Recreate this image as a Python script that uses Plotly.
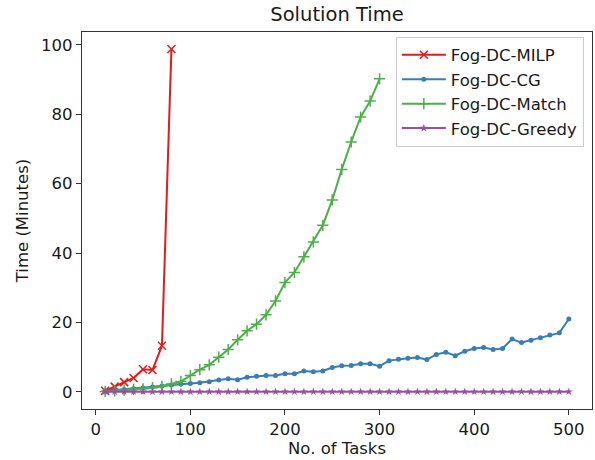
import plotly.graph_objects as go

tasks_milp = [10, 20, 30, 40, 50, 60, 70, 80]
time_milp = [0.3, 1.5, 2.8, 4.0, 6.5, 6.3, 13.3, 98.8]

tasks_all = [10, 20, 30, 40, 50, 60, 70, 80, 90, 100,
             110, 120, 130, 140, 150, 160, 170, 180, 190, 200,
             210, 220, 230, 240, 250, 260, 270, 280, 290, 300,
             310, 320, 330, 340, 350, 360, 370, 380, 390, 400,
             410, 420, 430, 440, 450, 460, 470, 480, 490, 500]
time_cg = [0.3, 0.5, 0.7, 0.9, 1.1, 1.4, 1.7, 2.0, 2.3, 2.4,
           2.6, 2.9, 3.4, 3.8, 3.5, 4.2, 4.5, 4.7, 4.7, 5.2,
           5.2, 6.0, 5.8, 6.0, 7.0, 7.5, 7.6, 8.1, 8.1, 7.4,
           9.0, 9.4, 9.7, 9.9, 9.3, 10.8, 11.4, 10.4, 11.7, 12.5,
           12.8, 12.2, 12.5, 15.2, 14.2, 14.9, 15.6, 16.4, 17.0, 21.0]

tasks_match = [10, 20, 30, 40, 50, 60, 70, 80, 90, 100,
               110, 120, 130, 140, 150, 160, 170, 180, 190, 200,
               210, 220, 230, 240, 250, 260, 270, 280, 290, 300]
time_match = [0.1, 0.3, 0.5, 0.7, 0.9, 1.2, 1.6, 2.3, 3.0, 4.7,
              6.4, 7.8, 10.0, 12.2, 15.0, 17.6, 19.5, 22.2, 26.2, 31.5,
              34.4, 38.9, 43.2, 48.0, 55.3, 64.1, 72.0, 79.2, 83.8, 90.2]

time_greedy = [0.05, 0.05, 0.05, 0.05, 0.05, 0.05, 0.05, 0.05, 0.05, 0.05,
               0.05, 0.05, 0.05, 0.05, 0.05, 0.05, 0.05, 0.05, 0.05, 0.05,
               0.05, 0.05, 0.05, 0.05, 0.05, 0.05, 0.05, 0.05, 0.05, 0.05,
               0.05, 0.05, 0.05, 0.05, 0.05, 0.05, 0.05, 0.05, 0.05, 0.05,
               0.05, 0.05, 0.05, 0.05, 0.05, 0.05, 0.05, 0.05, 0.05, 0.05]

x_ticks = [0, 100, 200, 300, 400, 500]
y_ticks = [0, 20, 40, 60, 80, 100]

RED, BLUE, GREEN, PURPLE = "#e41a1c", "#377eb8", "#4daf4a", "#984ea3"
FONT = "DejaVu Sans"
TXT = "#1a1a1a"

fig = go.Figure()
fig.add_trace(go.Scatter(
    x=tasks_milp, y=time_milp, mode="lines+markers", name="Fog-DC-MILP",
    line=dict(color=RED, width=2),
    marker=dict(symbol="x-thin-open", size=8, color=RED, line=dict(color=RED, width=1.5))))
fig.add_trace(go.Scatter(
    x=tasks_all, y=time_cg, mode="lines+markers", name="Fog-DC-CG",
    line=dict(color=BLUE, width=2),
    marker=dict(symbol="circle", size=5, color=BLUE)))
fig.add_trace(go.Scatter(
    x=tasks_match, y=time_match, mode="lines+markers", name="Fog-DC-Match",
    line=dict(color=GREEN, width=2),
    marker=dict(symbol="cross-thin-open", size=8, color=GREEN, line=dict(color=GREEN, width=1.5))))
fig.add_trace(go.Scatter(
    x=tasks_all, y=time_greedy, mode="lines+markers", name="Fog-DC-Greedy",
    line=dict(color=PURPLE, width=2),
    marker=dict(symbol="star", size=6, color=PURPLE)))

axis_common = dict(
    showline=True, linecolor="#333333", linewidth=1.2, mirror=True,
    ticks="outside", ticklen=5, tickwidth=1, tickcolor="#333333",
    showgrid=False, zeroline=False,
    tickfont=dict(family=FONT, size=16.5, color=TXT),
)

fig.update_layout(
    width=595, height=460,
    margin=dict(l=82, r=3, t=32, b=51),
    paper_bgcolor="white", plot_bgcolor="white",
    font=dict(family=FONT, color=TXT),
    title=dict(text="Solution Time", x=0.5, xref="paper", y=1 - 14 / 460, yref="container",
               xanchor="center", yanchor="middle", font=dict(family=FONT, size=19.5, color=TXT)),
    xaxis=dict(range=[-14.5, 524.5], tickvals=x_ticks,
               title=dict(text="No. of Tasks", font=dict(family=FONT, size=16.5), standoff=2),
               **axis_common),
    yaxis=dict(range=[-4.94, 103.7], tickvals=y_ticks,
               title=dict(text="Time (Minutes)", font=dict(family=FONT, size=16.5), standoff=8),
               **axis_common),
    legend=dict(x=0.984, y=0.988, xanchor="right", yanchor="top",
                bgcolor="rgba(255,255,255,0.8)", bordercolor="#cccccc", borderwidth=1,
                font=dict(family=FONT, size=16.5, color=TXT),
                itemwidth=44),
    showlegend=True,
)

fig.write_html("out.html")
